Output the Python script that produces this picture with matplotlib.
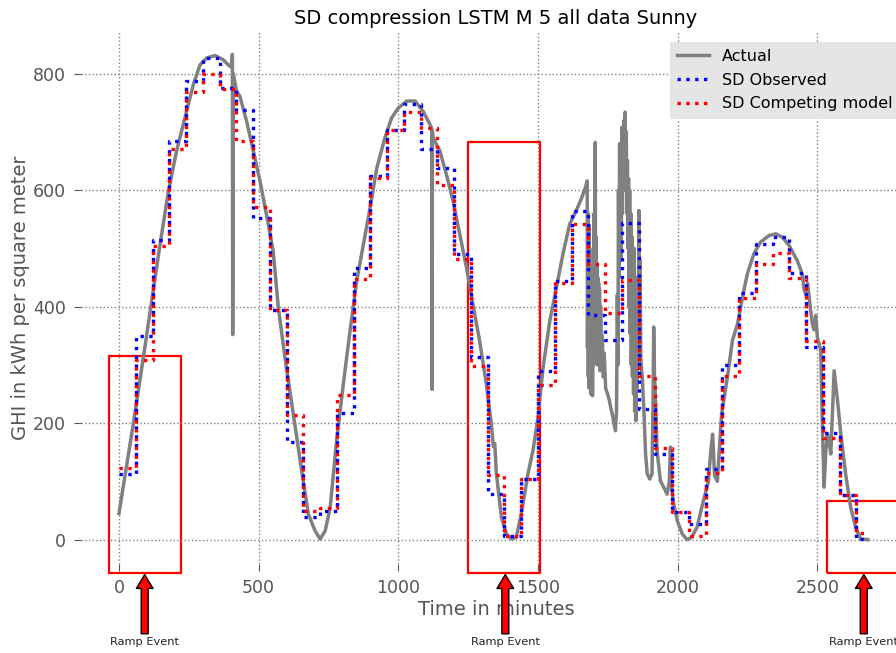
import numpy as np
import matplotlib
matplotlib.use("Agg")
from matplotlib import pyplot as plt
from matplotlib.patches import Rectangle

actual_t = [0, 51, 87, 117, 147, 177, 206, 236, 266, 290, 314, 344, 373, 391, 400,
            404, 406, 407, 409, 421, 433, 457, 481, 505, 528, 552, 570, 594, 624, 654,
            678, 702, 720, 738, 756, 779, 803, 827, 851, 875, 899, 923, 952, 976, 1000,
            1030, 1060, 1089, 1113, 1120, 1121, 1122, 1124, 1149, 1172, 1196, 1220, 1244,
            1267, 1291, 1315, 1333, 1340, 1345, 1351, 1369, 1387, 1405, 1422, 1440, 1464,
            1482, 1500, 1518, 1542, 1566, 1589, 1613, 1637, 1655, 1670, 1676, 1677, 1679,
            1680, 1682, 1683, 1685, 1686, 1688, 1689, 1691, 1692, 1694, 1695, 1697, 1699,
            1701, 1703, 1705, 1706, 1708, 1709, 1711, 1712, 1714, 1715, 1717, 1718, 1720,
            1722, 1724, 1727, 1730, 1734, 1737, 1742, 1749, 1755, 1760, 1766, 1770, 1777,
            1781, 1784, 1786, 1788, 1790, 1792, 1794, 1796, 1798, 1800, 1802, 1804, 1806,
            1808, 1810, 1812, 1814, 1816, 1818, 1820, 1822, 1824, 1826, 1828, 1830, 1832,
            1834, 1836, 1838, 1840, 1842, 1844, 1846, 1848, 1850, 1852, 1854, 1856, 1858,
            1861, 1863, 1865, 1868, 1873, 1879, 1885, 1891, 1900, 1908,
            1912, 1914, 1917, 1920, 1926, 1938, 1950, 1962, 1970, 1974, 1978, 1986, 1998,
            2016, 2033, 2050, 2069, 2092, 2110, 2118, 2125, 2132, 2142, 2157, 2178, 2196,
            2214, 2232, 2249, 2273, 2297, 2327, 2351, 2375, 2399, 2428, 2446, 2452, 2458,
            2465, 2476, 2482, 2488, 2494, 2500, 2512, 2518, 2524, 2530, 2536, 2542, 2548,
            2560, 2572, 2584, 2601, 2619, 2637, 2655, 2680]
actual_v = [45, 198, 312, 410, 507, 598, 667, 724, 781, 815, 827, 831, 824, 815, 812,
            820, 833, 352, 800, 770, 761, 718, 667, 615, 558, 495, 400, 313, 215, 118,
            44, 15, 1, 15, 55, 170, 267, 358, 444, 507, 570, 638, 690, 724, 741,
            753, 753, 735, 713, 705, 258, 700, 690, 667, 627, 581, 524, 467,
            404, 341, 267, 198, 160, 165, 113, 38, 10, 1, 4, 44, 113,
            153, 210, 295, 375, 433, 490, 541, 565, 585, 605, 616, 330, 560,
            280, 540, 260, 500, 300, 470, 250, 450, 280, 420, 247, 400, 300,
            560, 420, 682, 380, 520, 320, 470, 300, 450, 320, 440, 300, 430,
            290, 400, 310, 350, 279, 320, 260, 250, 240, 227, 215, 205, 187,
            220, 420, 300, 600, 450, 680, 520, 650, 480, 708, 560, 690, 600,
            720, 640, 734, 600, 700, 560, 651, 500, 620, 400, 600, 353, 560,
            300, 520, 280, 480, 250, 500, 220, 450, 204, 420, 260, 450, 300,
            565, 380, 479, 307, 280, 222, 147, 113, 104, 113,
            250, 365, 280, 250, 153, 101, 90, 78, 100, 159, 90, 61, 33,
            10, 0, 4, 21, 67, 100, 150, 181, 110, 100, 215, 279, 342,
            370, 416, 456, 491, 511, 522, 525, 519, 505, 479, 456, 430, 422,
            440, 393, 370, 360, 385, 347, 325, 193, 90, 150, 181, 170, 147,
            290, 239, 181, 113, 56, 21, 1, 0]

# swinging door outputs, one value per 60 minute segment
step_t = list(range(0, 2700, 60)) + [2680]
sd_observed = [113, 350, 514, 685, 787, 826, 775, 738, 553, 395,
               167, 39, 50, 218, 466, 625, 704, 748, 670, 638,
               491, 313, 79, 7, 104, 289, 444, 564, 386, 343,
               544, 224, 147, 47, 27, 122, 300, 424, 507, 519,
               457, 331, 183, 77, 1]
sd_competing = [123, 308, 504, 671, 769, 800, 773, 684, 571, 395,
                214, 50, 55, 249, 447, 620, 704, 735, 706, 609,
                481, 298, 111, 7, 104, 266, 441, 542, 473, 389,
                446, 281, 157, 47, 7, 114, 281, 414, 474, 492,
                449, 341, 174, 77, 11]

# ramp event boxes (x0, x1, top) and arrow positions
ramp_boxes = [(-36, 222, 315), (1251, 1507, 683), (2534, 2950, 67)]
ramp_arrows = [92, 1383, 2666]

fig = plt.figure(figsize=(8.96, 6.53), dpi=100)
ax = fig.add_axes([0.0907, 0.1366, 0.926, 0.8144])

ax.plot(actual_t, actual_v, color='gray', linewidth=2.5, label='Actual')
ax.plot(step_t, sd_observed + [sd_observed[-1]], color='blue', linestyle=':',
        linewidth=2.4, drawstyle='steps-post', label='SD Observed')
ax.plot(step_t, sd_competing + [sd_competing[-1]], color='red', linestyle=':',
        linewidth=2.4, drawstyle='steps-post', label='SD Competing model')

for x0, x1, top in ramp_boxes:
    ax.add_patch(Rectangle((x0, -57), x1 - x0, top + 57, fill=False,
                           edgecolor='red', linewidth=1.6, clip_on=False))

for x in ramp_arrows:
    ax.annotate('Ramp Event', xy=(x, -60), xytext=(x, -175), ha='center', va='center',
                fontsize=8.2, color='#222222', annotation_clip=False,
                arrowprops=dict(facecolor='red', edgecolor='black', width=5,
                                headwidth=12, headlength=10, shrink=0.0))

ax.set_xlim(-135, 2835)
ax.set_ylim(-41.5, 871.5)
ax.set_xticks([0, 500, 1000, 1500, 2000, 2500])
ax.set_yticks([0, 200, 400, 600, 800])

for s in ax.spines.values():
    s.set_visible(False)
ax.grid(True, color='gray', linestyle=':', linewidth=1)
ax.tick_params(colors='#555555', labelsize=12.5, length=5, pad=6)

ax.set_title('SD compression LSTM M 5 all data Sunny', fontsize=14)
ax.set_xlabel('Time in minutes', fontsize=14, color='#555555', labelpad=2)
ax.set_ylabel('GHI in kWh per square meter', fontsize=14, color='#555555', labelpad=2)

leg = ax.legend(loc='upper right', bbox_to_anchor=(0.996, 0.997), fontsize=11.5,
                fancybox=False, framealpha=1, borderpad=0.45, labelspacing=0.55)
leg.get_frame().set_facecolor('#E5E5E5')
leg.get_frame().set_edgecolor('none')

plt.savefig('out.png', dpi=100)
